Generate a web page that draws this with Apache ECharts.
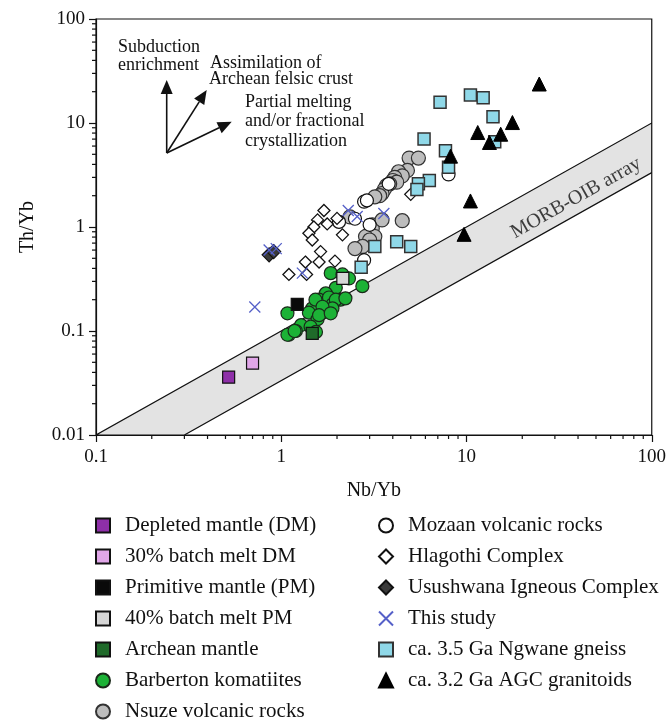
<!DOCTYPE html>
<html><head><meta charset="utf-8">
<script src="https://cdn.jsdelivr.net/npm/echarts@6/dist/echarts.min.js"></script>
<style>html,body{margin:0;padding:0;background:#fff}#c{width:669px;height:720px}</style>
</head><body><div id="c"></div>
<script>
// ---- axis ticks ----
const xTickLabels = ['0.1', '1', '10', '100'];
const yTickLabels = ['0.01', '0.1', '1', '10', '100'];
const xMinorTicks = [0.2,0.3,0.4,0.5,0.6,0.7,0.8,0.9,2,3,4,5,6,7,8,9,20,30,40,50,60,70,80,90];
const yMinorTicks = [0.02,0.03,0.04,0.05,0.06,0.07,0.08,0.09,0.2,0.3,0.4,0.5,0.6,0.7,0.8,0.9,2,3,4,5,6,7,8,9,20,30,40,50,60,70,80,90];

// ---- MORB-OIB array band (Nb/Yb, Th/Yb) ----
const bandPoly = [[0.1, 0.01], [100, 10], [100, 3.333], [0.3, 0.01]];
const morbLabelAt = [[39, 1.9]];

// ---- data (Nb/Yb, Th/Yb) ----
const dm = [[0.52, 0.036]];
const dm30 = [[0.70, 0.049]];
const pm = [[1.22, 0.18]];
const pm40 = [[2.15, 0.32]];
const archean = [[1.47, 0.095]];
const barberton = [[1.85,0.36],[2.14,0.35],[2.32,0.32],[2.74,0.27],[1.97,0.26],[1.74,0.23],[1.60,0.20],[1.47,0.165],[1.81,0.21],[1.89,0.18],[2.09,0.20],[1.67,0.15],[1.41,0.15],[1.08,0.148],[1.57,0.13],[1.28,0.114],[1.20,0.10],[1.10,0.092],[1.44,0.11],[1.54,0.098],[1.08,0.092],[1.18,0.10],[1.53,0.20],[1.97,0.20],[1.89,0.165],[1.67,0.171],[1.60,0.142],[1.85,0.148],[2.22,0.206]];
const nsuze = [[4.9,4.6],[5.5,4.6],[4.8,3.5],[4.3,3.4],[4.5,3.1],[4.1,3.0],[4.0,2.8],[4.2,2.7],[3.85,2.6],[3.7,2.5],[3.6,2.3],[3.5,2.1],[3.4,2.0],[3.2,1.95],[4.5,1.15],[3.1,1.05],[3.1,0.97],[3.0,0.87],[3.2,0.81],[2.85,0.81],[3.0,0.75],[2.75,0.65],[2.5,0.62],[2.35,1.25],[3.5,1.17]];
const mozaan = [[3.8,2.6],[2.8,1.75],[2.9,1.8],[3.0,1.05],[2.05,1.12],[2.5,1.2],[2.8,0.48],[8.0,3.2]];
const hlagothi = [[1.70,1.44],[1.57,1.17],[1.77,1.07],[1.50,1.0],[1.41,0.87],[1.47,0.75],[2.0,1.21],[2.14,0.84],[1.63,0.58],[1.60,0.46],[1.35,0.46],[1.95,0.47],[1.10,0.35],[1.37,0.35],[5.0,2.06]];
const usushwana = [[0.86,0.54],[0.91,0.58]];
const thisStudy = [[0.72,0.17],[0.86,0.60],[0.94,0.62],[1.30,0.36],[2.30,1.44],[2.57,1.26],[3.58,1.35]];
const ngwane = [[7.2,15.8],[10.5,18.6],[12.3,17.5],[13.9,11.5],[14.2,6.6],[5.9,7.0],[7.7,5.4],[8.0,3.75],[6.3,2.8],[5.5,2.6],[5.4,2.3],[4.2,0.72],[5.0,0.65],[3.2,0.65],[2.7,0.41]];
const agc = [[24.7,23.7],[17.7,10.1],[11.5,8.1],[15.3,7.8],[13.3,6.5],[8.2,4.8],[10.5,1.78],[9.7,0.85]];

const legendLeft = ['Depleted mantle (DM)','30% batch melt DM','Primitive mantle (PM)','40% batch melt PM','Archean mantle','Barberton komatiites','Nsuze volcanic rocks'];
const legendRight = ['Mozaan volcanic rocks','Hlagothi Complex','Usushwana Igneous Complex','This study','ca. 3.5 Ga Ngwane gneiss','ca. 3.2 Ga AGC granitoids'];

const FONT = '"Liberation Serif", "Times New Roman", serif';
const INK = '#111';

function sc(name, data, symbol, size, fill, border, bw, z) {
  return {
    type: 'scatter', name, data, symbol, symbolSize: size, z: z || 3,
    itemStyle: { color: fill, borderColor: border, borderWidth: bw, opacity: 1 },
    emphasis: { disabled: true }
  };
}
function tickLbl(arr, minV) {
  return v => arr[Math.round(Math.log10(v) - Math.log10(minV))];
}

const chart = echarts.init(document.getElementById('c'), null, { renderer: 'canvas' });
const crossPath = 'path://M0,0L10,10M10,0L0,10';

const legendText = { fontSize: 21, color: INK, fontFamily: FONT, padding: [0,0,0,10] };

const option = {
  animation: false,
  backgroundColor: '#fff',
  textStyle: { fontFamily: FONT },
  grid: { left: 96, right: 15, top: 19, bottom: 285, show: true, borderColor: INK, borderWidth: 1.2, backgroundColor: 'transparent' },
  xAxis: {
    type: 'log', logBase: 10, min: 0.1, max: 100,
    name: 'Nb/Yb', nameLocation: 'middle', nameGap: 46,
    nameTextStyle: { fontSize: 20, color: INK, fontFamily: FONT },
    axisLine: { lineStyle: { color: INK, width: 1.2 } },
    axisTick: { length: 7, inside: false, lineStyle: { color: INK, width: 1.2 } },
    axisLabel: { fontSize: 19, color: INK, fontFamily: FONT, margin: 13, formatter: tickLbl(xTickLabels, 0.1) },
    splitLine: { show: false }, minorTick: { show: false }
  },
  yAxis: {
    type: 'log', logBase: 10, min: 0.01, max: 100,
    name: 'Th/Yb', nameLocation: 'middle', nameGap: 58,
    nameTextStyle: { fontSize: 20, color: INK, fontFamily: FONT },
    axisLine: { lineStyle: { color: INK, width: 1.2 } },
    axisTick: { length: 7, inside: false, lineStyle: { color: INK, width: 1.2 } },
    axisLabel: { fontSize: 19, color: INK, fontFamily: FONT, margin: 11, formatter: tickLbl(yTickLabels, 0.01) },
    splitLine: { show: false }
  },
  legend: [
    { orient: 'vertical', left: 95, top: 515, height: 240, padding: 0, itemWidth: 14, itemHeight: 14, itemGap: 10, data: legendLeft,
      textStyle: legendText, selectedMode: false },
    { orient: 'vertical', left: 378, top: 515, height: 240, padding: 0, itemWidth: 14, itemHeight: 14, itemGap: 10, data: legendRight,
      textStyle: legendText, selectedMode: false }
  ],
  graphic: [],
  series: [
    { type: 'custom', name: 'band', silent: true, z: 1, clip: true, data: [bandPoly[0]],
      renderItem: (params, api) => ({
        type: 'polygon', shape: { points: bandPoly.map(p => api.coord(p)) },
        style: { fill: '#e3e3e3', stroke: INK, lineWidth: 1.2 }
      }) },
    { type: 'custom', name: 'xminor', silent: true, z: 5, clip: false, data: xMinorTicks.map(v => [v, 1]),
      renderItem: (params, api) => {
        const p = api.coord([api.value(0), api.value(1)]);
        const yb = params.coordSys.y + params.coordSys.height;
        return { type: 'line', shape: { x1: p[0], y1: yb, x2: p[0], y2: yb + 4 }, style: { stroke: INK, lineWidth: 1.2 } };
      } },
    { type: 'custom', name: 'yminor', silent: true, z: 5, clip: false, data: yMinorTicks.map(v => [1, v]),
      renderItem: (params, api) => {
        const p = api.coord([api.value(0), api.value(1)]);
        const xl = params.coordSys.x;
        return { type: 'line', shape: { x1: xl, y1: p[1], x2: xl - 4, y2: p[1] }, style: { stroke: INK, lineWidth: 1.2 } };
      } },
    { type: 'scatter', name: 'morbLabel', data: morbLabelAt, symbolSize: 0, silent: true, z: 2,
      label: { show: true, position: 'inside', formatter: 'MORB-OIB array', rotate: 29.4, fontSize: 20, color: INK, fontFamily: FONT } },
    sc('Barberton komatiites', barberton, 'circle', 13, '#1cb236', '#1a2a1a', 1.2),
    sc('Nsuze volcanic rocks', nsuze, 'circle', 14, '#bdbdbd', '#333', 1.2),
    sc('Mozaan volcanic rocks', mozaan, 'circle', 13, '#ffffff', '#111', 1.2),
    sc('Hlagothi Complex', hlagothi, 'diamond', 12, '#ffffff', '#111', 1.3),
    sc('Usushwana Igneous Complex', usushwana, 'diamond', 14, '#3a3a3a', '#111', 1.2),
    sc('ca. 3.5 Ga Ngwane gneiss', ngwane, 'rect', 12, '#8fd8e8', '#333', 1.5),
    sc('ca. 3.2 Ga AGC granitoids', agc, 'triangle', 14, '#000', '#000', 1),
    sc('This study', thisStudy, crossPath, 11, 'rgba(0,0,0,0)', '#5560c8', 1.3, 4),
    sc('Depleted mantle (DM)', dm, 'rect', 12, '#8e2fa8', '#111', 1.2, 4),
    sc('30% batch melt DM', dm30, 'rect', 12, '#e0a6e8', '#111', 1.2, 4),
    sc('Primitive mantle (PM)', pm, 'rect', 12, '#0a0a0a', '#111', 1.2, 4),
    sc('40% batch melt PM', pm40, 'rect', 12, '#d6d6d6', '#111', 1.2, 4),
    sc('Archean mantle', archean, 'rect', 12, '#1f6a2a', '#111', 1.2, 4)
  ]
};

// arrows and process annotations (top-left diagram)
const ax0 = [166.7, 153];
const arrowTips = [[166.7, 80], [206.7, 90], [231.7, 121.7]];
const gfx = [];
arrowTips.forEach(t => {
  const dx = t[0] - ax0[0], dy = t[1] - ax0[1];
  const L = Math.hypot(dx, dy), ux = dx / L, uy = dy / L;
  const hl = 14, hw = 6;
  const bx = t[0] - ux * hl, by = t[1] - uy * hl;
  gfx.push({ type: 'line', shape: { x1: ax0[0], y1: ax0[1], x2: bx, y2: by }, style: { stroke: INK, lineWidth: 1.6 }, z: 10 });
  gfx.push({ type: 'polygon', shape: { points: [[t[0], t[1]], [bx - uy * hw, by + ux * hw], [bx + uy * hw, by - ux * hw]] }, style: { fill: INK }, z: 10 });
});
const notes = [
  ['Subduction', 118, 47], ['enrichment', 118, 65],
  ['Assimilation of', 210, 63], ['Archean felsic crust', 209, 79],
  ['Partial melting', 245, 102], ['and/or fractional', 245, 121.5], ['crystallization', 245, 141]
];
notes.forEach(n => gfx.push({ type: 'text', x: n[1], y: n[2], z: 10,
  style: { text: n[0], font: '18px ' + FONT, fill: INK, verticalAlign: 'middle', align: 'left' } }));
option.graphic = gfx;

chart.setOption(option);
</script>
</body></html>
